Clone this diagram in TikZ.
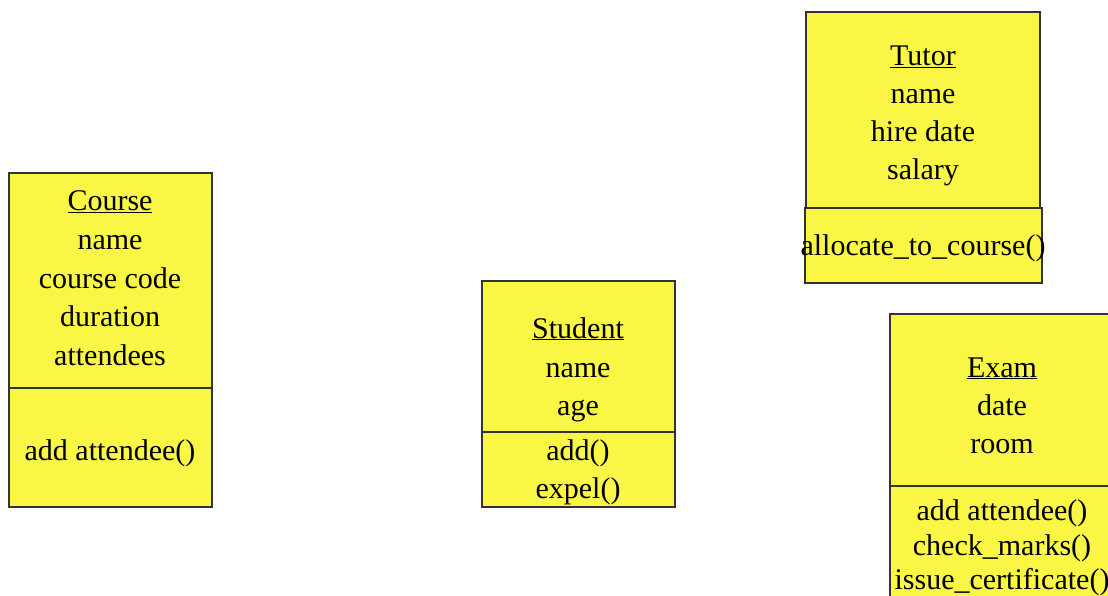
\documentclass[tikz,border=0pt]{standalone}
\usepackage{fontspec}
\setmainfont{Liberation Serif}
\usepackage{xcolor}
\definecolor{classYellow}{RGB}{250,246,70}

\begin{document}
\begin{tikzpicture}[x=1pt,y=-1pt]
        \tikzstyle{every node}=[font=\fontsize{30}{38}\selectfont,inner sep=0pt]
        \tikzset{classbox/.style = {draw=black!80,fill=classYellow,line width=1.2pt}}
        \tikzset{txt/.style = {anchor=base}}
        \useasboundingbox (0,0) rectangle (1108,596);
        % boxes
        \draw[classbox] (9,173) rectangle (212,388);
        \draw[classbox] (9,388) rectangle (212,507);
        \draw[classbox] (482,281) rectangle (675,432);
        \draw[classbox] (482,432) rectangle (675,507);
        \draw[classbox] (806,12) rectangle (1040,208);
        \draw[classbox] (805,208) rectangle (1042,283);
        \draw[classbox] (890,314) rectangle (1116,486);
        \draw[classbox] (890,486) rectangle (1116,604);
        % course
        \node[txt] (course) at (110,211) {\underline{Course}};
        \foreach \t [count=\i] in {name,course code,duration,attendees}
          \node[txt] (course-\i) at (110,211+38.5*\i) {\t};
        \node[txt] (course-op) at (110,460) {add attendee()};
        % student
        \node[txt] (student) at (578,338) {\underline{Student}};
        \node[txt] (student-1) at (578,377) {name};
        \node[txt] (student-2) at (578,415) {age};
        \node[txt] (student-op1) at (578,460) {add()};
        \node[txt] (student-op2) at (578,498) {expel()};
        % tutor
        \node[txt] (tutor) at (923,66) {\underline{Tutor}};
        \foreach \t [count=\i] in {name,hire date,salary}
          \node[txt] (tutor-\i) at (923,66+38*\i) {\t};
        \node[txt] (tutor-op) at (923,255) {allocate\_to\_course()};
        % exam
        \node[txt] (exam) at (1002,377) {\underline{Exam}};
        \node[txt] (exam-1) at (1002,415) {date};
        \node[txt] (exam-2) at (1002,453) {room};
        \foreach \t [count=\i] in {add attendee(),check\_marks(),issue\_certificate()}
          \node[txt] (exam-op\i) at (1002,486+34.5*\i) {\t};
      \end{tikzpicture}
\end{document}
